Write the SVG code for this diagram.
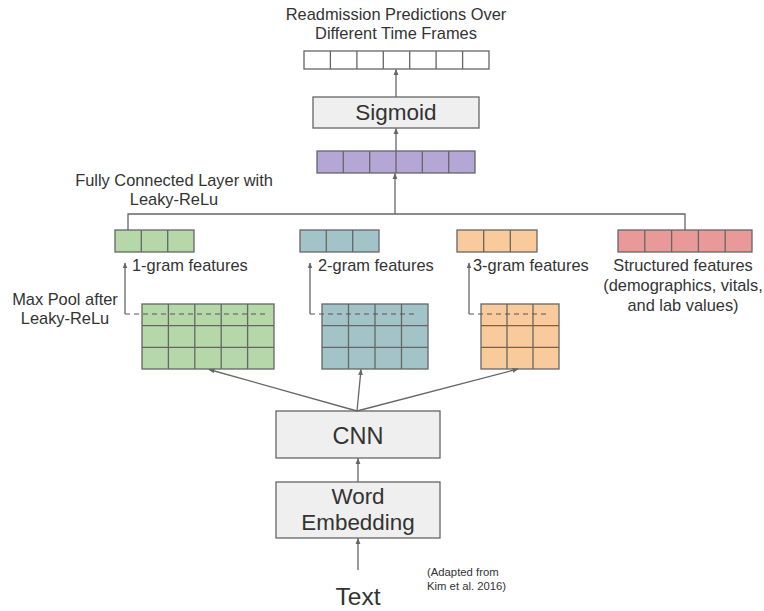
<svg xmlns="http://www.w3.org/2000/svg" width="764" height="611" viewBox="0 0 764 611">
<defs>
<marker id="ah" viewBox="0 0 10 10" refX="9" refY="5" markerWidth="6" markerHeight="6" markerUnits="userSpaceOnUse" orient="auto">
<path d="M0,1 L10,5 L0,9 z" fill="#666"/>
</marker>
<style>
text{font-family:"Liberation Sans",Arial,sans-serif;fill:#333}
.box{fill:#efefef;stroke:#666;stroke-width:1.3}
.cell{stroke:#666;stroke-width:1.3}
.ln{stroke:#666;stroke-width:1.3;fill:none}
.arr{stroke:#666;stroke-width:1.3;fill:none;marker-end:url(#ah)}
.dash{stroke:#555;stroke-width:1;stroke-dasharray:5,4;fill:none}
.t14{font-size:16.4px}
.mid{text-anchor:middle}
</style>
</defs>
<rect width="764" height="611" fill="#fff"/>

<g id="title">
<text class="t14 mid" x="396" y="20">Readmission Predictions Over</text>
<text class="t14 mid" x="396" y="39">Different Time Frames</text>
</g>

<g id="output">
<rect class="cell" x="304" y="51" width="185" height="18" fill="#fff"/>
<path class="ln" d="M330.4,51v18M356.9,51v18M383.3,51v18M409.7,51v18M436.1,51v18M462.6,51v18"/>
</g>

<g id="sigmoid">
<rect class="box" x="313" y="97" width="166" height="31"/>
<text class="mid" x="396" y="120" font-size="22.5">Sigmoid</text>
</g>

<g id="fc">
<rect class="cell" x="317" y="151" width="158" height="22" fill="#b4a7d6"/>
<path class="ln" d="M343.3,151v22M369.7,151v22M396,151v22M422.3,151v22M448.7,151v22"/>
<text class="t14 mid" x="174" y="186">Fully Connected Layer with</text>
<text class="t14 mid" x="174" y="205">Leaky-ReLu</text>
</g>

<g id="f1">
<rect class="cell" x="115" y="230" width="79" height="22" fill="#b6d7a8"/>
<path class="ln" d="M141.3,230v22M167.7,230v22"/>
<text class="t14" x="132" y="271">1-gram features</text>
</g>
<g id="f2">
<rect class="cell" x="300" y="230" width="79" height="22" fill="#a2c4c9"/>
<path class="ln" d="M326.3,230v22M352.7,230v22"/>
<text class="t14" x="318" y="271">2-gram features</text>
</g>
<g id="f3">
<rect class="cell" x="457" y="230" width="80" height="22" fill="#f9cb9c"/>
<path class="ln" d="M483.7,230v22M510.3,230v22"/>
<text class="t14" x="473" y="271">3-gram features</text>
</g>
<g id="structured">
<rect class="cell" x="618" y="230" width="134" height="22" fill="#ea9999"/>
<path class="ln" d="M644.8,230v22M671.6,230v22M698.4,230v22M725.2,230v22"/>
<text class="t14 mid" x="683" y="271">Structured features</text>
<text class="t14 mid" x="683" y="291">(demographics, vitals,</text>
<text class="t14 mid" x="683" y="311">and lab values)</text>
</g>

<g id="maxpool">
<text class="t14 mid" x="65" y="305">Max Pool after</text>
<text class="t14 mid" x="65" y="324">Leaky-ReLu</text>
</g>

<g id="g1">
<rect class="cell" x="142" y="304" width="132" height="65" fill="#b6d7a8"/>
<path class="ln" d="M168.4,304v65M194.8,304v65M221.2,304v65M247.6,304v65M142,325.7h132M142,347.3h132"/>
</g>
<g id="g2">
<rect class="cell" x="322" y="304" width="106" height="65" fill="#a2c4c9"/>
<path class="ln" d="M348.5,304v65M375,304v65M401.5,304v65M322,325.7h106M322,347.3h106"/>
</g>
<g id="g3">
<rect class="cell" x="481" y="304" width="78" height="65" fill="#f9cb9c"/>
<path class="ln" d="M507,304v65M533,304v65M481,325.7h78M481,347.3h78"/>
</g>

<g id="cnn">
<rect class="box" x="276" y="411" width="164" height="47"/>
<text class="mid" x="358" y="444" font-size="23.5">CNN</text>
</g>

<g id="embedding">
<rect class="box" x="276" y="482" width="164" height="56"/>
<text class="mid" x="358" y="504" font-size="22.4">Word</text>
<text class="mid" x="358" y="530" font-size="22.4">Embedding</text>
</g>

<g id="text">
<text class="mid" x="358" y="605" font-size="24.5">Text</text>
</g>

<g id="note">
<text x="427" y="576" font-size="11.3">(Adapted from</text>
<text x="427" y="590" font-size="11.3">Kim et al. 2016)</text>
</g>

<g id="connectors">
<path class="arr" d="M396,97V69.5"/>
<path class="arr" d="M396,151V128.5"/>
<path class="arr" d="M395,214V173.5"/>
<path class="ln" d="M128,230V214H685V230"/>
<path class="dash" d="M125,314H269"/>
<path class="arr" d="M125,314V263"/>
<path class="dash" d="M310,314H417"/>
<path class="arr" d="M310,314V263"/>
<path class="dash" d="M469,314H550"/>
<path class="arr" d="M469,314V263"/>
<path class="arr" d="M357,411L209,369.5"/>
<path class="arr" d="M357,411L361,369.5"/>
<path class="arr" d="M357,411L518,369"/>
<path class="arr" d="M358,482V458.5"/>
<path class="arr" d="M358,570V538.5"/>
</g>
</svg>
